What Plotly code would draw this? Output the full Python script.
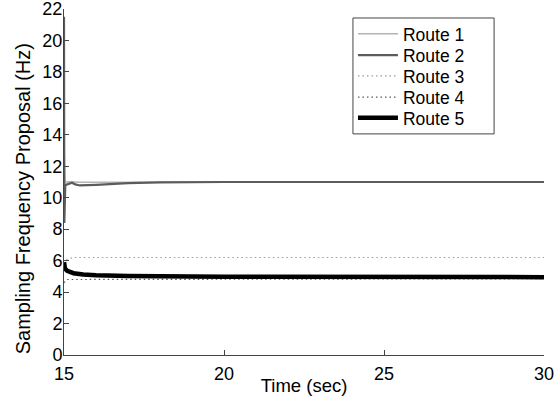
import plotly.graph_objects as go

# Time axis (sec) and per-route sampling frequency proposals (Hz)
route1_t = [15.0, 15.03, 15.2, 15.5, 17.0, 20.0, 30.0]
route1_v = [13.5, 11.0, 11.02, 10.98, 10.98, 11.0, 11.0]

route2_t = [15.0, 15.01, 15.04, 15.1, 15.25, 15.35, 15.5, 16.0, 16.5, 17.0, 18.0, 20.0, 30.0]
route2_v = [21.5, 8.4, 10.8, 10.85, 10.95, 10.85, 10.78, 10.82, 10.88, 10.93, 10.97, 11.0, 11.0]

route3_t = [15.0, 15.1, 15.3, 30.0]
route3_v = [5.8, 6.1, 6.2, 6.2]

route4_t = [15.0, 15.1, 30.0]
route4_v = [4.6, 4.8, 4.85]

route5_t = [15.0, 15.03, 15.1, 15.3, 15.6, 16.0, 17.0, 18.0, 20.0, 30.0]
route5_v = [5.9, 5.5, 5.35, 5.2, 5.12, 5.07, 5.02, 5.0, 4.97, 4.95]

x_ticks = [15, 20, 25, 30]
y_ticks = list(range(0, 23, 2))

series = [
    ("Route 1", route1_t, route1_v, dict(color="#b4b4b4", width=1.5)),
    ("Route 2", route2_t, route2_v, dict(color="#5c5c5c", width=2.2)),
    ("Route 3", route3_t, route3_v, dict(color="#9a9a9a", width=1.2, dash="1.5px,3px")),
    ("Route 4", route4_t, route4_v, dict(color="#555555", width=1.2, dash="1.5px,3px")),
    ("Route 5", route5_t, route5_v, dict(color="#000000", width=4.5)),
]

# One legend per route (top edges), so the entries stack with a tight row pitch
legend_tops = [0.9798, 0.9182, 0.8584, 0.7968, 0.7370]
legend_ids = ["legend", "legend2", "legend3", "legend4", "legend5"]

fig = go.Figure()
for (name, t, v, line), lid in zip(series, legend_ids):
    fig.add_trace(go.Scatter(x=t, y=v, mode="lines", name=name, line=line, legend=lid))

font = "Liberation Sans, Arial, sans-serif"

# Legend frame
fig.add_shape(
    type="rect", xref="paper", yref="paper",
    x0=0.602, x1=0.896, y0=0.639, y1=0.974,
    line=dict(color="#444444", width=1), fillcolor="white", layer="above",
)

# Vertical axis title
fig.add_annotation(
    text="Sampling Frequency Proposal (Hz)", xref="paper", yref="paper",
    x=-0.0854, y=0.45, xanchor="center", yanchor="middle",
    textangle=-90, showarrow=False, font=dict(size=20),
)

legend_style = dict(
    x=0.602, xanchor="left", yanchor="top",
    borderwidth=0, bgcolor="rgba(0,0,0,0)",
    font=dict(size=17.5), itemwidth=40,
)
layout_legends = {lid: dict(legend_style, y=top) for lid, top in zip(legend_ids, legend_tops)}

fig.update_layout(
    width=556,
    height=396,
    margin=dict(l=64, r=12, t=9, b=41),
    paper_bgcolor="white",
    plot_bgcolor="white",
    font=dict(family=font, size=18, color="black"),
    showlegend=True,
    xaxis=dict(
        range=[15, 30], tickvals=x_ticks, ticks="inside", ticklen=5,
        tickcolor="#444444", showline=True, linecolor="#444444", linewidth=1,
        showgrid=False, zeroline=False, automargin=False,
        ticklabeloverflow="allow", ticklabelstandoff=2,
        title=dict(text="Time (sec)", standoff=1, font=dict(size=18.5)),
    ),
    yaxis=dict(
        range=[0, 22], tickvals=y_ticks, ticks="inside", ticklen=5,
        tickcolor="#444444", showline=True, linecolor="#444444", linewidth=1,
        showgrid=False, zeroline=False, automargin=False,
        ticklabeloverflow="allow", ticklabelstandoff=-3,
    ),
    **layout_legends,
)

fig.write_html("out.html")
